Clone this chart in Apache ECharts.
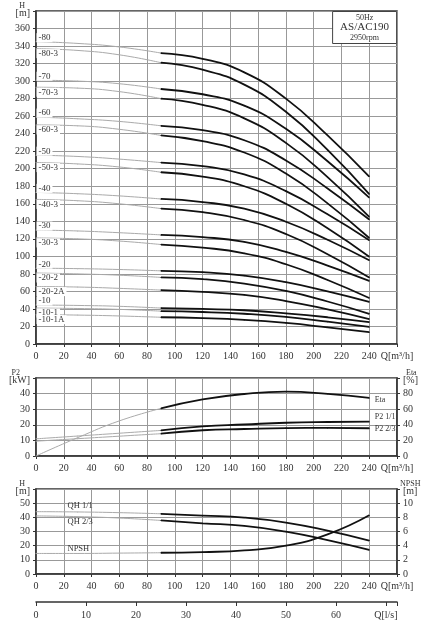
<!doctype html>
<html>
<head>
<meta charset="utf-8">
<script src="https://cdn.jsdelivr.net/npm/echarts@6/dist/echarts.min.js"></script>
<title>AS/AC190 50Hz</title>
<style>
	body { margin: 0; background: #fff; }
	#chart { width: 437px; height: 640px; }
</style>
</head>
<body>
<div id="chart"></div>
<script>

var Q_POINTS = [0, 30, 60, 90, 120, 150, 180, 210, 240];
var SPLIT = 3; // index of Q=90, start of the working range (black part)

// head curves H [m]
var H_80    = [345, 343, 339, 332, 325.5, 310, 280, 238, 191];
var H_80_3  = [337, 335, 330, 321, 313, 296, 265, 221.5, 171];
var H_70    = [301, 300, 297, 291, 285, 272, 245.5, 208.5, 167];
var H_70_3  = [293, 292, 288, 280, 273, 257.5, 229.5, 190.5, 145];
var H_60    = [259, 257, 254, 249, 244, 232.5, 209.5, 177.5, 142];
var H_60_3  = [250, 249, 245, 238, 231.5, 218.5, 194.5, 160.5, 121];
var H_50    = [215.5, 214, 211, 207, 203, 193.5, 174.5, 148, 118.5];
var H_50_3  = [207, 205.5, 202, 196, 191, 180, 160, 132, 99.5];
var H_40    = [173, 171.5, 169, 165.5, 162, 154.5, 139.5, 119, 95.5];
var H_40_3  = [165, 163.5, 160, 154.5, 150.5, 141.5, 125.5, 102.5, 76];
var H_30    = [130, 129, 127, 124.5, 122, 116.5, 105, 89.5, 72];
var H_30_3  = [121, 120, 117.5, 113.5, 110, 103.5, 91, 73, 52.5];
var H_20    = [86.5, 86, 85, 83.5, 82, 78, 70.5, 60, 48];
var H_20_2  = [81, 80, 78.5, 76, 74, 69, 60.5, 48.5, 34.5];
var H_20_2A = [65.5, 65, 63.5, 61.5, 59.5, 56, 49, 39.5, 28.5];
var H_10    = [44.5, 44, 43, 41, 40, 38.5, 35, 30.5, 25];
var H_10_1  = [41, 40.5, 39.5, 37.5, 36.5, 34.5, 31, 25.5, 19.5];
var H_10_1A = [33.5, 33, 32, 30.5, 29.5, 27.5, 24, 19, 13.5];

var CURVE_NAMES = ['-80', '-80-3', '-70', '-70-3', '-60', '-60-3', '-50', '-50-3',
	'-40', '-40-3', '-30', '-30-3', '-20', '-20-2', '-20-2A', '-10', '-10-1', '-10-1A'];
var CURVE_DATA = [H_80, H_80_3, H_70, H_70_3, H_60, H_60_3, H_50, H_50_3,
	H_40, H_40_3, H_30, H_30_3, H_20, H_20_2, H_20_2A, H_10, H_10_1, H_10_1A];
// label sits above the curve for full impellers, below for trimmed ones
var LABEL_ABOVE = [1, 0, 1, 0, 1, 0, 1, 0, 1, 0, 1, 0, 1, 0, 0, 1, 0, 0];

// power [kW] and efficiency [%]
var P2_FULL  = [11, 12.8, 14.6, 16.4, 19, 20.2, 21.3, 21.8, 22];
var P2_TWO3  = [9.5, 11.1, 12.7, 14.3, 16.5, 17.3, 17.9, 18, 17.8];
var ETA      = [0, 23.5, 45, 61, 72.5, 79.5, 82.5, 79.7, 74.5];

// single stage head [m] and NPSH [m]
var QH_FULL  = [44, 43.8, 43.3, 42.5, 41.2, 39.8, 36.3, 30.6, 23.6];
var QH_TWO3  = [41, 40.5, 39.5, 37.8, 35.8, 34, 29.9, 23.9, 17];
var NPSH     = [2.9, 2.9, 2.95, 3.0, 3.1, 3.33, 4.0, 5.6, 8.3];

var FONT = 'Liberation Serif';
var INK = '#333';

function pairs(values, from, to) {
	var out = [];
	for (var i = from; i <= to; i++) {
		out.push([Q_POINTS[i], values[i]]);
	}
	return out;
}

function lineSeries(data, grid, yIdx, thick) {
	return {
		type: 'line',
		xAxisIndex: grid,
		yAxisIndex: yIdx,
		data: data,
		smooth: true,
		symbol: 'circle',
		symbolSize: 1,
		showAllSymbol: true,
		silent: true,
		itemStyle: { color: thick ? '#111' : '#aaa' },
		lineStyle: { color: thick ? '#111' : '#aaa', width: thick ? 1.8 : 1 },
		label: { show: false, fontFamily: FONT, color: INK },
		z: thick ? 3 : 2
	};
}

var series = [];
var LAST = Q_POINTS.length - 1;

CURVE_NAMES.forEach(function (name, i) {
	var gray = pairs(CURVE_DATA[i], 0, SPLIT);
	gray[0] = {
		value: gray[0],
		label: {
			show: true,
			formatter: name,
			position: LABEL_ABOVE[i] ? [1, -8] : [1, 1],
			fontSize: 9,
			backgroundColor: '#fff',
			padding: [0, 2, 0, 2]
		}
	};
	series.push(lineSeries(gray, 0, 0, false));
	series.push(lineSeries(pairs(CURVE_DATA[i], SPLIT, LAST), 0, 0, true));
});

function withEndLabel(values, text, dy) {
	var d = pairs(values, SPLIT, LAST);
	var n = d.length - 1;
	d[n] = { value: d[n], label: { show: true, formatter: text, position: [6, dy], fontSize: 8 } };
	return d;
}

function withStartLabel(values, text, dy) {
	var d = pairs(values, 0, SPLIT);
	d[0] = { value: d[0], label: { show: true, formatter: text, position: [32, dy], fontSize: 8.5 } };
	return d;
}

// middle chart
series.push(lineSeries(pairs(P2_FULL, 0, SPLIT), 1, 1, false));
series.push(lineSeries(withEndLabel(P2_FULL, 'P2 1/1', -8), 1, 1, true));
series.push(lineSeries(pairs(P2_TWO3, 0, SPLIT), 1, 1, false));
series.push(lineSeries(withEndLabel(P2_TWO3, 'P2 2/3', -3), 1, 1, true));
series.push(lineSeries(pairs(ETA, 0, SPLIT), 1, 2, false));
series.push(lineSeries(withEndLabel(ETA, 'Eta', -1), 1, 2, true));

// bottom chart
series.push(lineSeries(withStartLabel(QH_FULL, 'QH 1/1', -10), 2, 3, false));
series.push(lineSeries(pairs(QH_FULL, SPLIT, LAST), 2, 3, true));
series.push(lineSeries(withStartLabel(QH_TWO3, 'QH 2/3', 2), 2, 3, false));
series.push(lineSeries(pairs(QH_TWO3, SPLIT, LAST), 2, 3, true));
series.push(lineSeries(withStartLabel(NPSH, 'NPSH', -9), 2, 4, false));
series.push(lineSeries(pairs(NPSH, SPLIT, LAST), 2, 4, true));

var axisBase = {
	axisLine: { show: true, onZero: false, lineStyle: { color: INK, width: 1.5 } },
	axisTick: { show: true, length: 3, lineStyle: { color: INK } },
	axisLabel: { fontFamily: FONT, fontSize: 10, color: INK, margin: 6 },
	splitLine: { show: true, lineStyle: { color: '#999', width: 1 } }
};

function qAxis(grid) {
	return Object.assign({}, axisBase, {
		type: 'value', gridIndex: grid, min: 0, max: 260, interval: 20,
		axisLabel: Object.assign({}, axisBase.axisLabel, {
			margin: 7,
			formatter: function (v) { return v === 260 ? 'Q[m³/h]' : v; }
		})
	});
}

function yAxis(grid, side, max, step, unit, name, split, namePad) {
	return Object.assign({}, axisBase, {
		type: 'value', gridIndex: grid, position: side, min: 0, max: max, interval: step,
		name: name, nameGap: 1, nameMoveOverlap: false,
		nameTextStyle: {
			fontFamily: FONT, fontSize: 8, color: INK,
			align: side === 'left' ? 'right' : 'left',
			padding: side === 'left' ? [0, namePad, 0, 0] : [0, 0, 0, namePad]
		},
		splitLine: { show: split, lineStyle: { color: '#999', width: 1 } },
		axisLabel: Object.assign({}, axisBase.axisLabel, {
			formatter: function (v) { return v === max ? '{u|' + unit + '}' : v; },
			rich: { u: { fontFamily: FONT, fontSize: 10, color: INK, padding: [5, 0, 0, 0] } }
		})
	});
}

var lsAxis = Object.assign({}, axisBase, {
	type: 'value', gridIndex: 2, position: 'bottom', offset: 28,
	min: 0, max: 260 / 3.6, interval: 10,
	splitLine: { show: false },
	axisTick: { show: true, length: 4, lineStyle: { color: INK } },
	axisLabel: Object.assign({}, axisBase.axisLabel, {
		margin: 8,
		formatter: function (v) { return v === 70 ? 'Q[l/s]' : (v > 70 ? '' : v); }
	})
});

var chart = echarts.init(document.getElementById('chart'));

chart.setOption({
	backgroundColor: '#fff',
	animation: false,
	title: {
		text: '{a|50Hz}\n{b|AS/AC190}\n{a|2950rpm}',
		right: 40,
		top: 11,
		padding: [2, 8, 2, 8],
		borderColor: '#444',
		borderWidth: 1,
		backgroundColor: '#fff',
		textStyle: {
			fontWeight: 'normal',
			rich: {
				a: { fontFamily: FONT, fontSize: 8, lineHeight: 9, color: INK, fontWeight: 'normal', align: 'center' },
				b: { fontFamily: FONT, fontSize: 11, lineHeight: 11, color: INK, fontWeight: 'normal', align: 'center' }
			}
		}
	},
	grid: [
		{ left: 36, right: 40, top: 11, bottom: 296, show: true, borderColor: INK, borderWidth: 1.5 },
		{ left: 36, right: 40, top: 378, bottom: 184, show: true, borderColor: INK, borderWidth: 1.5 },
		{ left: 36, right: 40, top: 489, bottom: 66, show: true, borderColor: INK, borderWidth: 1.5 }
	],
	xAxis: [qAxis(0), qAxis(1), qAxis(2), lsAxis],
	yAxis: [
		yAxis(0, 'left', 380, 20, '[m]', 'H', true, 11),
		yAxis(1, 'left', 50, 10, '[kW]', 'P2', true, 16),
		yAxis(1, 'right', 100, 20, '[%]', 'Eta', false, 9),
		yAxis(2, 'left', 60, 10, '[m]', 'H', true, 11),
		yAxis(2, 'right', 12, 2, '[m]', 'NPSH', false, 3)
	],
	series: series
});

</script>
</body>
</html>
